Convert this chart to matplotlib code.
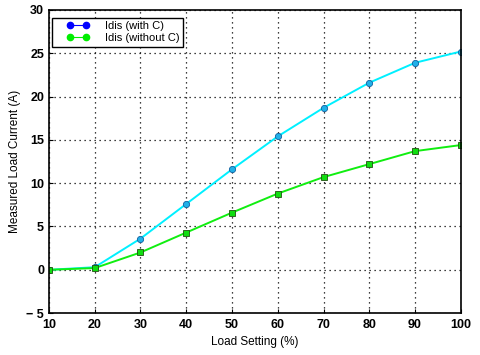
import matplotlib
matplotlib.use('Agg')
import matplotlib.pyplot as plt
from matplotlib.lines import Line2D
from matplotlib.legend_handler import HandlerLine2D

plt.rcParams['font.family'] = ['Liberation Sans', 'DejaVu Sans']

# Load setting (%) and measured currents (A)
load_setting = [10, 20, 30, 40, 50, 60, 70, 80, 90, 100]
idis_with_c = [0.0, 0.3, 3.6, 7.6, 11.6, 15.4, 18.7, 21.6, 23.9, 25.2]
idis_without_c = [0.0, 0.2, 2.0, 4.3, 6.6, 8.8, 10.7, 12.2, 13.7, 14.4]

fig = plt.figure(figsize=(4.8, 3.55), dpi=100)
ax = fig.add_axes([0.102, 0.118, 0.858, 0.854])

ax.plot(load_setting, idis_with_c, color='#00f0ff', lw=1.4,
        marker='o', ms=4.5, mfc='#20b0e8', mec='#1060a0', mew=0.6)
ax.plot(load_setting, idis_without_c, color='#10ee10', lw=1.4,
        marker='s', ms=4.5, mfc='#10dd10', mec='#205010', mew=0.6)

ax.set_xlim(10, 100)
ax.set_ylim(-5, 30)
ax.set_xticks(load_setting)
ax.set_yticks([-5, 0, 5, 10, 15, 20, 25, 30])
ax.set_yticklabels(['\u2212 5', '0', '5', '10', '15', '20', '25', '30'])
ax.grid(True, color='black', linestyle=(0, (1, 3)), linewidth=0.9)
ax.tick_params(direction='in', length=3, labelsize=9)
ax.tick_params(axis='x', pad=4)
for lbl in ax.get_xticklabels() + ax.get_yticklabels():
    lbl.set_fontweight('bold')
for sp in ax.spines.values():
    sp.set_linewidth(1.2)

ax.set_xlabel('Load Setting (%)', fontsize=8.5)
ax.set_ylabel('Measured Load Current (A)', fontsize=8.5)

# legend in the original uses plain blue / green circles
handles = [
    Line2D([], [], color='blue', lw=0.8, marker='o', ms=4.5, mfc='blue', mec='blue'),
    Line2D([], [], color='#00ee00', lw=0.8, marker='o', ms=4.5, mfc='#00ee00', mec='#00ee00'),
]
hmap = {h: HandlerLine2D(numpoints=2, xpad=1.05) for h in handles}
leg = ax.legend(handles, ['Idis (with C)', 'Idis (without C)'], loc='upper left',
                fontsize=8, fancybox=False, edgecolor='black', framealpha=1,
                borderpad=0.3, handlelength=3.1, handletextpad=1.35,
                labelspacing=0.2, handler_map=hmap,
                bbox_to_anchor=(-0.012, 1.0), borderaxespad=0.7)
leg.get_frame().set_linewidth(1.0)

fig.savefig('out.png', dpi=100)
